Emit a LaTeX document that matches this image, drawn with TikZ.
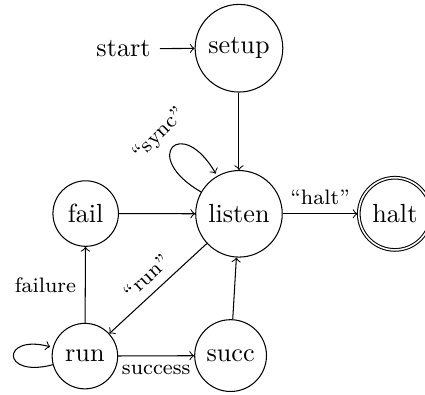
\documentclass[tikz,border=0pt]{standalone}
\usetikzlibrary{automata}
\tikzset{
  lbl/.style={font=\footnotesize},
  every state/.style={draw, minimum size=2.5em},
}
\begin{document}
\begin{tikzpicture}[x=1pt, y=1pt, >=to]
  \useasboundingbox (0,0) rectangle (162.2,-150.4);

  % states
  \node[state] (setup) at (91.2,-18.4) {setup};
  \node[state] (listen) at (91.2,-81.6) {listen};
  \node[state, accepting] (halt) at (150.7,-81.6) {halt};
  \node[state] (fail) at (32.7,-81.5) {fail};
  \node[state] (run) at (32.4,-135.9) {run};
  \node[state] (succ) at (88.0,-135.7) {succ};
  \node[anchor=east] (start) at (61,-18.6) {start};

  % transitions
  \path[->]
    (start)  edge (setup)
    (setup)  edge (listen)
    (listen) edge[out=150, in=120, loop] node[lbl, above, sloped] {``sync''} (listen)
    (fail)   edge (listen)
    (listen) edge node[lbl, above, sloped] {``run''} (run)
    (listen) edge node[lbl, above] {``halt''} (halt)
    (run)    edge node[lbl, left] {failure} (fail)
    (run)    edge[loop left] (run)
    (run)    edge node[lbl, below] {success} (succ)
    (succ)   edge (listen);
\end{tikzpicture}
\end{document}
